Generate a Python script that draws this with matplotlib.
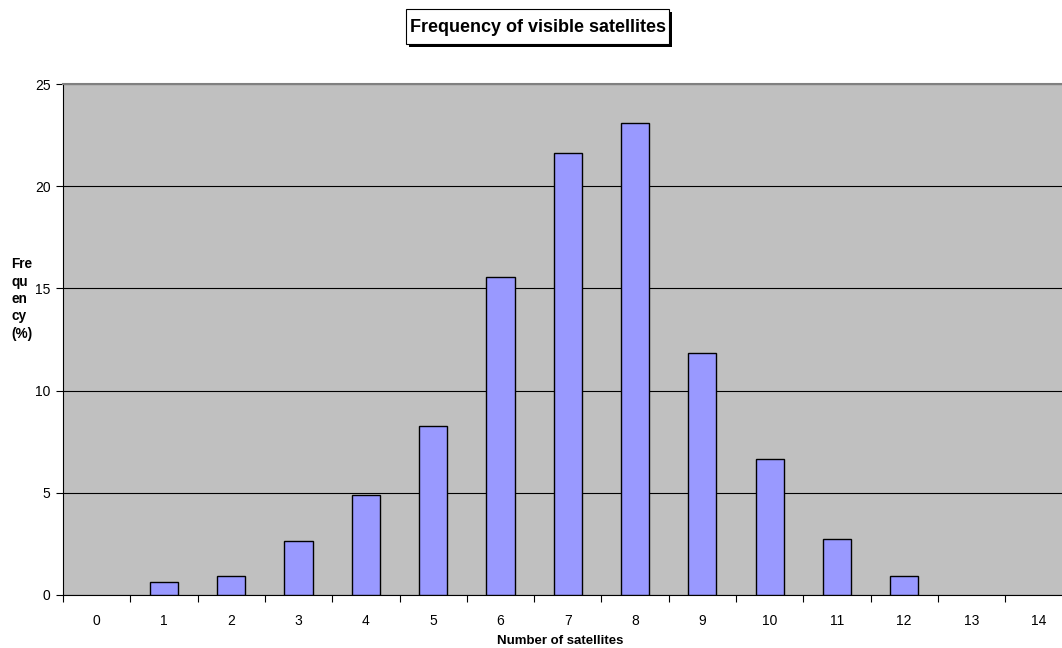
import matplotlib.pyplot as plt
from matplotlib.patches import Rectangle
import numpy as np

plt.rcParams['font.family'] = ['Liberation Sans', 'DejaVu Sans']

# number of visible satellites and frequency (%)
satellites = list(range(15))
frequency = [0, 0.63, 0.93, 2.62, 4.87, 8.29, 15.57, 21.63, 23.08,
             11.82, 6.66, 2.75, 0.95, 0, 0]

W, H = 1062, 648
fig = plt.figure(figsize=(W / 100, H / 100), dpi=100)
# plot area runs past the right edge, like in the original
ax = fig.add_axes([63 / W, (H - 595) / H, 1009.5 / W, 511 / H])
ax.set_facecolor('#C0C0C0')

x = np.arange(len(satellites))
freq = np.array(frequency)
shown = freq > 0  # empty categories get no bar outline
ax.bar(x[shown], freq[shown], width=0.42, color='#9999FF', edgecolor='black',
       linewidth=1.0, zorder=3)

ax.set_xlim(-0.5, len(satellites) - 0.5)
ax.set_ylim(0, 25)
ax.set_yticks(range(0, 26, 5))
ax.yaxis.grid(True, color='black', linewidth=0.8, zorder=0)
ax.set_axisbelow(True)

# ticks between categories, labels in the middle
ax.set_xticks(np.arange(-0.5, len(satellites), 1.0))
ax.set_xticklabels([])
ax.set_xticks(x, minor=True)
ax.set_xticklabels([str(s) for s in satellites], minor=True)
ax.tick_params(axis='x', which='major', direction='out', length=5, width=0.8)
ax.tick_params(axis='x', which='minor', length=0, pad=14, labelsize=10)
ax.tick_params(axis='y', direction='out', length=5, width=0.8, labelsize=10, pad=4)

ax.spines['top'].set_color('#808080')
ax.spines['top'].set_linewidth(1.5)
ax.spines['right'].set_visible(False)
ax.spines['left'].set_linewidth(0.8)
ax.spines['bottom'].set_linewidth(0.8)

fig.text(560 / W, 1 - 641 / H, 'Number of satellites', ha='center', va='center',
         fontsize=9.5, fontweight='bold')
fig.text(11 / W, 1 - 299 / H, 'Fre\nqu\nen\ncy\n(%)', ha='left', va='center',
         fontsize=9.8, fontweight='bold', linespacing=1.3)

# title box with a drop shadow
bx0, bx1, by0, by1 = 406, 669, 9, 44
fig.patches.append(Rectangle(((bx0 + 3) / W, 1 - (by1 + 3) / H), (bx1 - bx0) / W,
                             (by1 - by0) / H, transform=fig.transFigure,
                             facecolor='black', edgecolor='none', zorder=1))
fig.patches.append(Rectangle((bx0 / W, 1 - by1 / H), (bx1 - bx0) / W,
                             (by1 - by0) / H, transform=fig.transFigure,
                             facecolor='white', edgecolor='black', linewidth=0.8,
                             zorder=2))
fig.text((bx0 + bx1) / 2 / W, 1 - 27 / H, 'Frequency of visible satellites',
         ha='center', va='center', fontsize=13, fontweight='bold', zorder=3)

fig.savefig('out.png', dpi=100)
